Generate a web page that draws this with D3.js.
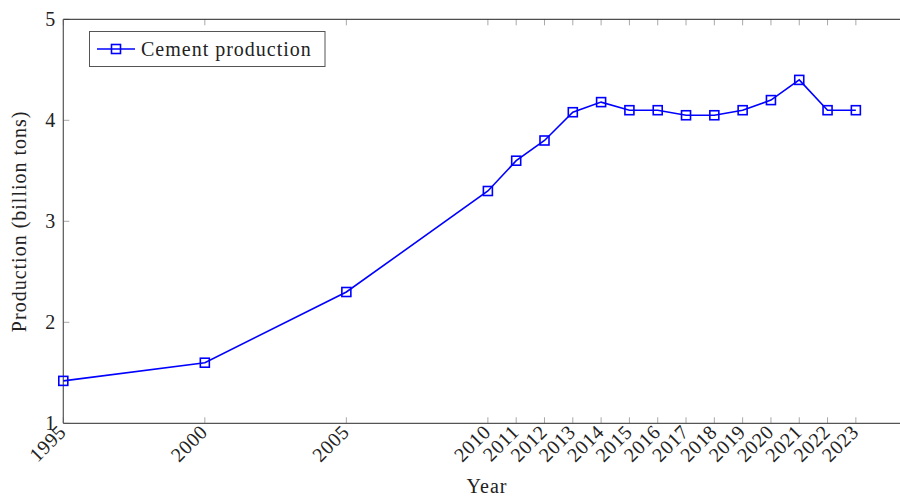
<!DOCTYPE html>
<html>
<head>
<meta charset="utf-8">
<script src="https://cdn.jsdelivr.net/npm/d3@7"></script>
<style>
  html, body { margin: 0; padding: 0; background: #fff; }
  svg { display: block; font-family: "Liberation Serif", "DejaVu Serif", serif; }
</style>
</head>
<body>
<svg id="chart" width="900" height="497"></svg>
<script>
// Annual world cement production, billion tons
const years = [1995, 2000, 2005, 2010, 2011, 2012, 2013, 2014, 2015, 2016, 2017, 2018, 2019, 2020, 2021, 2022, 2023];
const production = [1.42, 1.6, 2.3, 3.3, 3.6, 3.8, 4.08, 4.18, 4.1, 4.1, 4.05, 4.05, 4.1, 4.2, 4.4, 4.1, 4.1];
const yTicks = [1, 2, 3, 4, 5];
const seriesName = "Cement production";
const xTitle = "Year";
const yTitle = "Production (billion tons)";

const svg = d3.select("#chart");
const plotL = 63.3, plotR = 902, plotT = 19.3, plotB = 423.3;

const x = d3.scaleLinear().domain([1995, 2024.63]).range([plotL, plotR]);
const y = d3.scaleLinear().domain([1, 5]).range([plotB, plotT]);

const tickGrey = "#a8a8a8";
const axisGrey = "#555";
const textCol = "#222";
const fs = 20, ls = 1;

// tick marks drawn inward from every side
const gTicks = svg.append("g").attr("stroke", tickGrey).attr("stroke-width", 1);
years.forEach(v => {
  gTicks.append("line").attr("x1", x(v)).attr("x2", x(v)).attr("y1", plotB).attr("y2", plotB - 6);
  gTicks.append("line").attr("x1", x(v)).attr("x2", x(v)).attr("y1", plotT).attr("y2", plotT + 6);
});
yTicks.forEach(v => {
  gTicks.append("line").attr("x1", plotL).attr("x2", plotL + 6).attr("y1", y(v)).attr("y2", y(v));
});

// frame
svg.append("line").attr("x1", plotL).attr("x2", plotR).attr("y1", plotT).attr("y2", plotT)
  .attr("stroke", "#222").attr("stroke-width", 1);
svg.append("line").attr("x1", plotL).attr("x2", plotR).attr("y1", plotB).attr("y2", plotB)
  .attr("stroke", axisGrey).attr("stroke-width", 1.2);
svg.append("line").attr("x1", plotL).attr("x2", plotL).attr("y1", plotT).attr("y2", plotB)
  .attr("stroke", axisGrey).attr("stroke-width", 1.2);

// y tick labels
svg.append("g").selectAll("text").data(yTicks).join("text")
  .attr("x", plotL - 8).attr("y", d => y(d))
  .attr("text-anchor", "end").attr("dominant-baseline", "central")
  .attr("font-size", fs).attr("fill", textCol)
  .text(d => d);

// x tick labels, rotated 45 degrees
svg.append("g").selectAll("text").data(years).join("text")
  .attr("transform", d => `translate(${x(d) - 1},${plotB + 5}) rotate(-45)`)
  .attr("text-anchor", "end").attr("dominant-baseline", "central")
  .attr("font-size", fs).attr("letter-spacing", 0.5).attr("fill", textCol)
  .text(d => d);

// axis titles
svg.append("text").attr("x", 487).attr("y", 486)
  .attr("text-anchor", "middle").attr("dominant-baseline", "central")
  .attr("font-size", fs).attr("letter-spacing", ls).attr("fill", textCol).text(xTitle);
svg.append("text").attr("transform", `translate(19,${(plotT + plotB) / 2}) rotate(-90)`)
  .attr("text-anchor", "middle").attr("dominant-baseline", "central")
  .attr("font-size", fs).attr("letter-spacing", ls).attr("fill", textCol).text(yTitle);

// series
const blue = "#0000ff";
const data = years.map((yr, i) => ({ yr, v: production[i] }));
svg.append("path").datum(data)
  .attr("fill", "none").attr("stroke", blue).attr("stroke-width", 1.6)
  .attr("d", d3.line().x(d => x(d.yr)).y(d => y(d.v)));
const ms = 9;
svg.append("g").selectAll("rect").data(data).join("rect")
  .attr("x", d => x(d.yr) - ms / 2).attr("y", d => y(d.v) - ms / 2)
  .attr("width", ms).attr("height", ms)
  .attr("fill", "none").attr("stroke", blue).attr("stroke-width", 1.6);

// legend
const lg = svg.append("g");
lg.append("rect").attr("x", 89.5).attr("y", 31.5).attr("width", 235.5).attr("height", 35)
  .attr("fill", "#fff").attr("stroke", "#555").attr("stroke-width", 1);
lg.append("line").attr("x1", 97).attr("x2", 135).attr("y1", 49).attr("y2", 49)
  .attr("stroke", blue).attr("stroke-width", 1.6);
lg.append("rect").attr("x", 116 - ms / 2).attr("y", 49 - ms / 2).attr("width", ms).attr("height", ms)
  .attr("fill", "none").attr("stroke", blue).attr("stroke-width", 1.6);
lg.append("text").attr("x", 141).attr("y", 49).attr("dominant-baseline", "central")
  .attr("font-size", fs).attr("letter-spacing", ls).attr("fill", textCol).text(seriesName);
</script>
</body>
</html>
